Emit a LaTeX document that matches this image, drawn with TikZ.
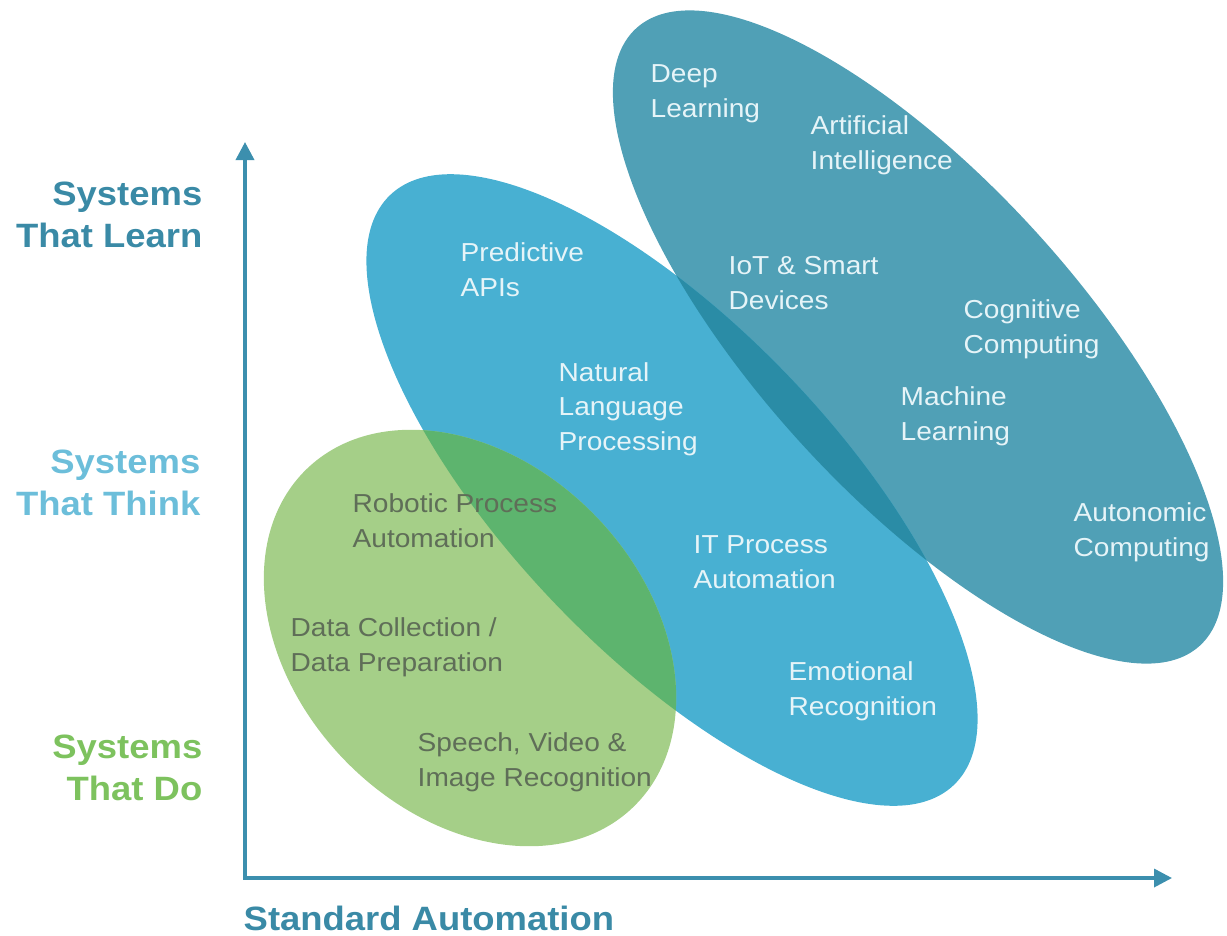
\documentclass[tikz,border=0pt]{standalone}
\usepackage{fontspec}
\setmainfont{Liberation Sans}
\newfontfamily\lblfont{Liberation Sans}[FakeStretch=1.08]
\usetikzlibrary{arrows.meta}
\definecolor{learnteal}{HTML}{50A0B6}
\definecolor{thinkblue}{HTML}{48B0D2}
\definecolor{deepteal}{HTML}{2A8CA6}
\definecolor{dogreen}{HTML}{A5CF88}
\definecolor{mixgreen}{HTML}{5DB46E}
\definecolor{axisteal}{HTML}{3C8FAE}
\definecolor{lbllearn}{HTML}{3A8AA6}
\definecolor{lblthink}{HTML}{6CBEDA}
\definecolor{lbldo}{HTML}{7DC25E}
\definecolor{txtlight}{HTML}{E6F4F8}
\definecolor{txtdark}{HTML}{5F6E58}
\tikzset{
    txtw/.style = {anchor=base west, inner sep=0pt, align=left, text=txtlight, font=\lblfont\fontsize{7.4}{9.7}\selectfont},
    txtd/.style = {txtw, text=txtdark},
    sys/.style = {anchor=base east, inner sep=0pt, align=right, font=\lblfont\bfseries\fontsize{9.6}{11.8}\selectfont},
    axisline/.style = {line width=1pt, draw=axisteal, {Triangle[width=1.8mm,length=1.8mm]}-{Triangle[width=1.8mm,length=1.8mm]}},
}
\begin{document}
\begin{tikzpicture}
\useasboundingbox (0,0) rectangle (12.27,-9.35);

% the three blobs
\fill[learnteal, rotate around={-47.6:(9.18,-3.37)}] (9.18,-3.37) ellipse [x radius=4.18, y radius=1.58];
\fill[thinkblue, rotate around={-46.3:(6.72,-4.90)}] (6.72,-4.90) ellipse [x radius=4.08, y radius=1.63];
\begin{scope}
  \clip[rotate around={-47.6:(9.18,-3.37)}] (9.18,-3.37) ellipse [x radius=4.18, y radius=1.58];
  \fill[deepteal, rotate around={-46.3:(6.72,-4.90)}] (6.72,-4.90) ellipse [x radius=4.08, y radius=1.63];
\end{scope}
\fill[dogreen, rotate around={-46:(4.70,-6.38)}] (4.70,-6.38) ellipse [x radius=2.35, y radius=1.75];
\begin{scope}
  \clip[rotate around={-46.3:(6.72,-4.90)}] (6.72,-4.90) ellipse [x radius=4.08, y radius=1.63];
  \fill[mixgreen, rotate around={-46:(4.70,-6.38)}] (4.70,-6.38) ellipse [x radius=2.35, y radius=1.75];
\end{scope}

% axes
\coordinate (origin) at (2.45,-8.78);
\coordinate (ytip) at (2.45,-1.42);
\coordinate (xtip) at (11.72,-8.78);
\draw[axisline] (ytip) -- (origin) -- (xtip);

% texts in the blobs (placed at the last line)
\node[txtw] (deep) at (6.50,-1.17) {Deep\\Learning};
\node[txtw] (ai) at (8.10,-1.69) {Artificial\\Intelligence};
\node[txtw] (pred) at (4.60,-2.96) {Predictive\\APIs};
\node[txtw] (iot) at (7.28,-3.09) {IoT \& Smart\\Devices};
\node[txtw] (cog) at (9.63,-3.53) {Cognitive\\Computing};
\node[txtw] (nlp) at (5.58,-4.50) {Natural\\Language\\Processing};
\node[txtw] (ml) at (9.00,-4.40) {Machine\\Learning};
\node[txtd] (rpa) at (3.52,-5.47) {Robotic Process\\Automation};
\node[txtw] (itpa) at (6.93,-5.88) {IT Process\\Automation};
\node[txtw] (auto) at (10.73,-5.56) {Autonomic\\Computing};
\node[txtd] (dc) at (2.90,-6.71) {Data Collection /\\Data Preparation};
\node[txtw] (emo) at (7.88,-7.15) {Emotional\\Recognition};
\node[txtd] (svi) at (4.17,-7.86) {Speech, Video \&\\Image Recognition};

% axis labels
\node[sys, text=lbllearn] (learn) at (2.03,-2.47) {Systems\\That Learn};
\node[sys, text=lblthink] (think) at (2.01,-5.15) {Systems\\That Think};
\node[sys, text=lbldo] (sysdo) at (2.03,-8.00) {Systems\\That Do};
\node[sys, anchor=base west, text=lbllearn] (std) at (2.43,-9.30) {Standard Automation};
\end{tikzpicture}
\end{document}
